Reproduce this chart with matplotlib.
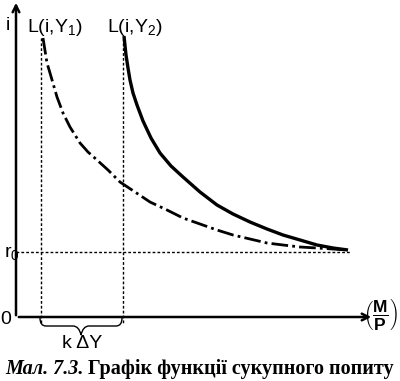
import matplotlib
matplotlib.use("Agg")
import matplotlib.pyplot as plt
from matplotlib.path import Path
from matplotlib.patches import PathPatch

plt.rcParams['font.family'] = ['Liberation Sans', 'DejaVu Sans']
plt.rcParams['mathtext.fontset'] = 'custom'
plt.rcParams['mathtext.rm'] = 'Liberation Sans'
plt.rcParams['mathtext.it'] = 'Liberation Sans'
plt.rcParams['mathtext.bf'] = 'Liberation Sans:bold'

curve1_x = [27, 31, 34, 41, 47, 54, 64, 72, 81, 92, 104, 134, 151, 167, 184, 201,
            217, 234, 251, 267, 284, 301, 332]
curve1_y = [280, 255, 245, 221, 205, 191, 175, 166, 158, 148, 136, 116, 108, 100, 94, 88,
            83, 79, 75, 73, 71, 70, 68]
curve2_x = [108, 110, 112, 114, 117, 121, 127, 135, 144, 155, 167, 184, 201, 217, 234,
            251, 267, 284, 301, 317, 332]
curve2_y = [282, 263, 250, 238, 225, 213, 197, 180, 165, 152, 141, 126, 113, 104, 96,
            89, 83, 78, 73, 70, 68]
r0 = 66
y_top = 280
y1_pos = 25
y2_pos = 107

fig = plt.figure(figsize=(4.0, 3.81), dpi=100)
ax = fig.add_axes([0, 0, 1, 1])
ax.set_xlim(-16, 384)
ax.set_ylim(-63, 318)
ax.axis('off')

# axes with arrows
ax.annotate('', xy=(0, 318), xytext=(0, 0),
            arrowprops=dict(arrowstyle='->', lw=1.8, color='black', mutation_scale=12))
ax.annotate('', xy=(358, 1), xytext=(0, 1),
            arrowprops=dict(arrowstyle='->', lw=1.8, color='black', mutation_scale=12))

# curves
ax.plot(curve1_x, curve1_y, color='black', lw=2.0, linestyle=(0, (6, 1.5, 1, 1.5)),
        solid_joinstyle='round', dash_joinstyle='round')
ax.plot(curve2_x, curve2_y, color='black', lw=2.4, solid_capstyle='butt',
        solid_joinstyle='round')

# dotted guides
ax.plot([0, 334], [r0, r0], color='black', lw=1.0, linestyle=(0, (2, 1.5)))
ax.plot([y1_pos, y1_pos], [y_top, -5], color='black', lw=1.0, linestyle=(0, (2, 1.5)))
ax.plot([y2_pos, y2_pos], [y_top, -5], color='black', lw=1.0, linestyle=(0, (2, 1.5)))

# brace
xa, xb = y1_pos - 1, y2_pos - 1
xm = (xa + xb) / 2
yt = 0
yh = -8     # horizontal part
yb = -17    # tip
verts = [(xa, yt), (xa, yh), (xa + 6, yh),
         (xm - 8, yh), (xm - 2, yh), (xm, yb),
         (xm + 2, yh), (xm + 8, yh),
         (xb - 6, yh), (xb, yh), (xb, yt)]
codes = [Path.MOVETO, Path.CURVE3, Path.CURVE3,
         Path.LINETO, Path.CURVE3, Path.CURVE3,
         Path.CURVE3, Path.CURVE3,
         Path.LINETO, Path.CURVE3, Path.CURVE3]
ax.add_patch(PathPatch(Path(verts, codes), fill=False, lw=1.0, color='black'))

# labels
fs = 14
ax.text(-8, 293, 'i', fontsize=fs, ha='center', va='center')
ax.text(-12, r0 - 1, r'r$_0$', fontsize=fs, ha='left', va='center')
ax.text(-10, -1, '0', fontsize=fs, ha='center', va='center')
ax.text(11, 290, r'L(i,Y$_1$)', fontsize=fs, ha='left', va='center')
ax.text(91, 290, r'L(i,Y$_2$)', fontsize=fs, ha='left', va='center')
ax.text(xm + 1, -25, 'k ΔY', fontsize=fs, ha='center', va='center')
ax.text(382, 4, r'$\left(\dfrac{\mathbf{M}}{\mathbf{P}}\right)$', fontsize=12.5,
        ha='right', va='center')

# caption
t1 = ax.text(-11, -51, 'Мал. 7.3.', fontsize=14.5, fontfamily='Liberation Serif',
             fontweight='bold', fontstyle='italic', ha='left', va='center')
fig.canvas.draw()
bb = t1.get_window_extent(renderer=fig.canvas.get_renderer())
x_after = ax.transData.inverted().transform((bb.x1, bb.y0))[0]
ax.text(x_after + 5, -51, 'Графік функції сукупного попиту', fontsize=14.5,
        fontfamily='Liberation Serif', fontweight='bold', ha='left', va='center')

fig.savefig('out.png', dpi=100)
